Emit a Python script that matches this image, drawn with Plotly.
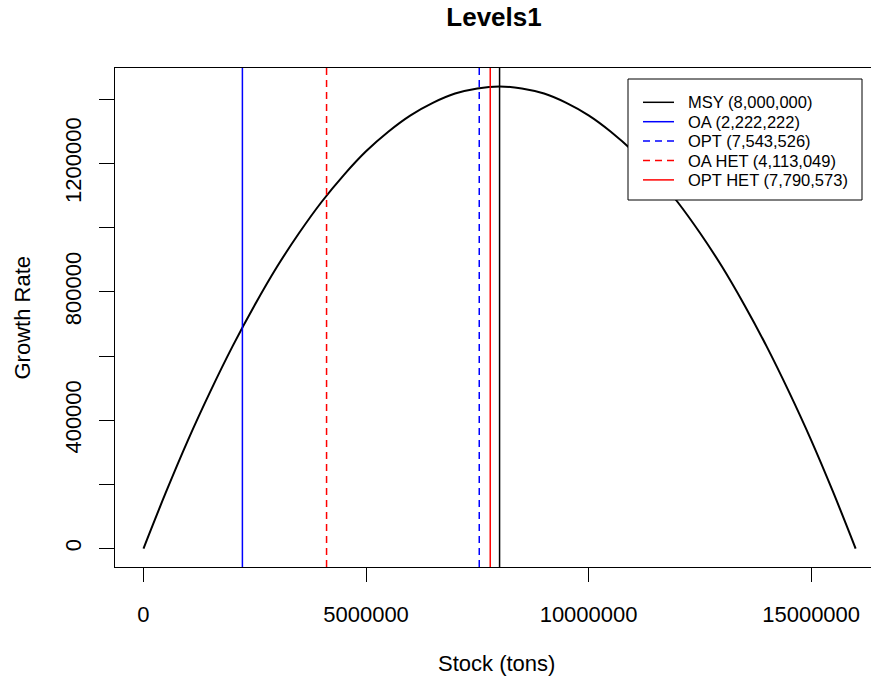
import plotly.graph_objects as go

# Data
stock = [0, 500000, 1000000, 1500000, 2000000, 2500000, 3000000, 3500000, 4000000,
         4500000, 5000000, 5500000, 6000000, 6500000, 7000000, 7500000, 8000000,
         8500000, 9000000, 9500000, 10000000, 10500000, 11000000, 11500000, 12000000,
         12500000, 13000000, 13500000, 14000000, 14500000, 15000000, 15500000, 16000000]
growth = [0, 174000, 338000, 489000, 630000, 759000, 878000, 984000, 1080000,
          1164000, 1238000, 1299000, 1350000, 1389000, 1418000, 1434000, 1440000,
          1434000, 1418000, 1389000, 1350000, 1299000, 1238000, 1164000, 1080000,
          984000, 878000, 759000, 630000, 489000, 338000, 174000, 0]

level_names = ["MSY (8,000,000)", "OA (2,222,222)", "OPT (7,543,526)",
               "OA HET (4,113,049)", "OPT HET (7,790,573)"]
level_values = [8000000, 2222222, 7543526, 4113049, 7790573]
level_colors = ["black", "#0000FF", "#0000FF", "#FF0000", "#FF0000"]
level_dash = ["solid", "solid", "7px,5px", "7px,5px", "solid"]

x_ticks = [0, 5000000, 10000000, 15000000]
x_ticktext = ["0", "5000000", "10000000", "15000000"]
y_ticks = [0, 200000, 400000, 600000, 800000, 1000000, 1200000, 1400000]
y_ticktext = ["0", "", "400000", "", "800000", "", "1200000", ""]

FONT = "Liberation Sans, Arial, sans-serif"

# plot area in pixels
L, R, T, B = 115, 871, 68, 567
PW, PH = R - L, B - T


def px(xp):
    return (xp - L) / PW


def py(yp):
    return (B - yp) / PH


fig = go.Figure()
fig.add_trace(go.Scatter(x=stock, y=growth, mode="lines", showlegend=False,
                         line=dict(color="black", width=2, shape="spline"),
                         hoverinfo="skip"))

for v, c, d in zip(level_values, level_colors, level_dash):
    fig.add_shape(type="line", xref="x", yref="paper", x0=v, x1=v, y0=0, y1=1,
                  line=dict(color=c, width=1.5, dash=d))

# legend box (drawn by hand to match R's compact legend)
fig.add_shape(type="rect", xref="paper", yref="paper",
              x0=px(628), x1=px(862), y0=py(200), y1=py(79),
              line=dict(color="black", width=1), fillcolor="white", layer="above")
row0, row_step = 102.3, 19.4
for i, (name, c, d) in enumerate(zip(level_names, level_colors, level_dash)):
    yc = row0 + i * row_step
    fig.add_shape(type="line", xref="paper", yref="paper",
                  x0=px(643), x1=px(674), y0=py(yc), y1=py(yc),
                  line=dict(color=c, width=1.5, dash=d), layer="above")
    fig.add_annotation(text=name, xref="paper", yref="paper", x=px(686), y=py(yc),
                       xanchor="left", yanchor="middle", showarrow=False,
                       font=dict(size=16.5, color="black"))

xmin, xmax = min(stock), max(stock)
ymin, ymax = min(growth), max(growth)
xpad = 0.04 * (xmax - xmin)
ypad = 0.04 * (ymax - ymin)

fig.update_layout(
    width=871, height=681,
    margin=dict(l=L, r=871 - R, t=T, b=681 - B),
    paper_bgcolor="white", plot_bgcolor="white",
    font=dict(family=FONT, size=22, color="black"),
    title=dict(text="<b>Levels1</b>", x=494 / 871, xref="container", xanchor="center",
               y=1 - 17 / 681, yref="container", yanchor="middle",
               font=dict(family=FONT, size=26, color="black")),
    showlegend=False,
)
fig.update_xaxes(range=[xmin - xpad, 16345000], showgrid=False, zeroline=False,
                 showline=True, mirror=True, linecolor="black", linewidth=1,
                 tickmode="array", tickvals=x_ticks, ticktext=x_ticktext,
                 ticks="outside", ticklen=14, tickcolor="black", tickwidth=1,
                 ticklabelstandoff=14, tickfont=dict(size=22))
fig.update_yaxes(range=[ymin - ypad, ymax + ypad], showgrid=False, zeroline=False,
                 showline=True, mirror=False, linecolor="black", linewidth=1,
                 tickmode="array", tickvals=y_ticks, ticktext=y_ticktext,
                 ticks="outside", ticklen=15, tickcolor="black", tickwidth=1,
                 tickangle=-90, ticklabelstandoff=9, tickfont=dict(size=22))

fig.add_annotation(text="Stock (tons)", xref="paper", yref="paper",
                   x=px(496), y=py(663), showarrow=False,
                   xanchor="center", yanchor="middle", font=dict(size=22))
fig.add_annotation(text="Growth Rate", xref="paper", yref="paper",
                   x=px(22), y=0.5, showarrow=False, textangle=-90,
                   xanchor="center", yanchor="middle", font=dict(size=22))

fig.write_html("out.html")
